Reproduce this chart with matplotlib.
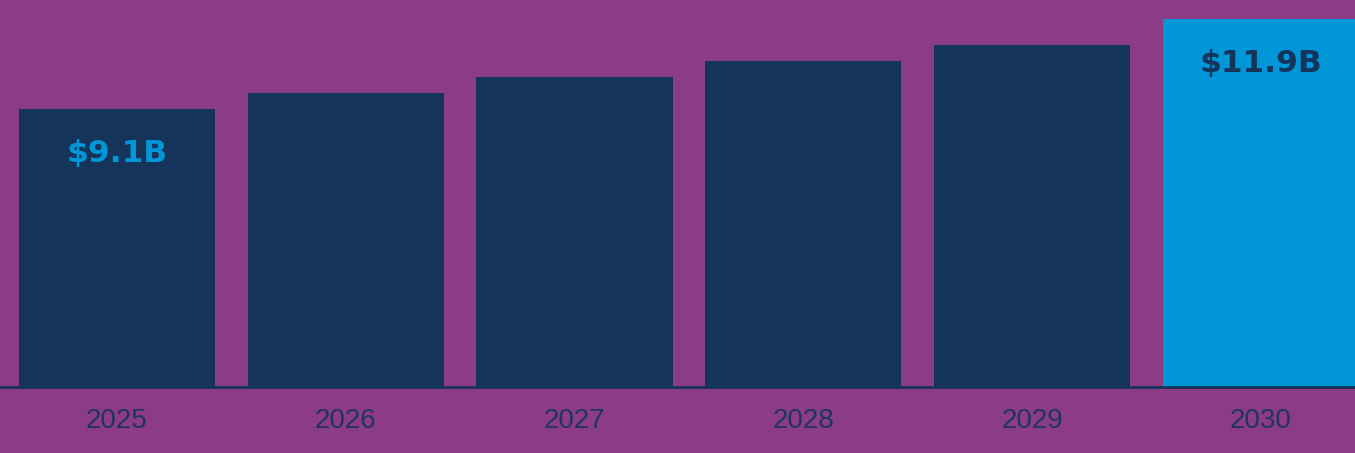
import matplotlib.pyplot as plt

years = ['2025', '2026', '2027', '2028', '2029', '2030']
values = [9.1, 9.6, 10.1, 10.6, 11.1, 11.9]
labels = {0: '$9.1B', 5: '$11.9B'}

bg = '#8c3c84'
navy = '#14345a'
blue = '#0096d8'

fig = plt.figure(figsize=(13.55, 4.53), dpi=100, facecolor=bg)
ax = fig.add_axes([0, 66 / 453, 1, 387 / 453])
ax.set_facecolor(bg)

colors = [navy] * (len(years) - 1) + [blue]
x = range(len(years))
ax.bar(x, values, width=0.857, color=colors, zorder=2)

ax.set_xlim(-0.511, 5.411)
ax.set_ylim(0.45, 12.49)

# value labels inside first and last bar
for i, txt in labels.items():
    c = blue if i == 0 else navy
    ax.text(i, values[i] - 1.4, txt, ha='center', va='center',
            fontsize=22.5, fontweight='bold', color=c, family='DejaVu Sans', zorder=3)

for s in ['top', 'right', 'left']:
    ax.spines[s].set_visible(False)
ax.spines['bottom'].set_color(navy)
ax.spines['bottom'].set_linewidth(2)
ax.spines['bottom'].set_zorder(4)

ax.set_yticks([])
ax.set_xticks(list(x))
ax.set_xticklabels(years, fontsize=20, color='#1f3560', family='Liberation Sans')
ax.tick_params(axis='x', length=0, pad=15)

fig.savefig('out.png', dpi=100, facecolor=bg)
